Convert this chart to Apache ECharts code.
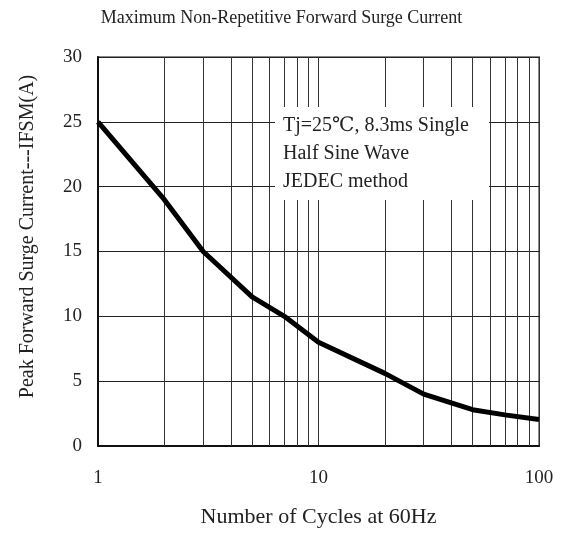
<!DOCTYPE html>
<html>
<head>
<meta charset="utf-8">
<script src="https://cdn.jsdelivr.net/npm/echarts@6/dist/echarts.min.js"></script>
<style>
  html, body { margin: 0; padding: 0; background: #fff; }
  #chart { width: 563px; height: 536px; }
</style>
</head>
<body>
<div id="chart"></div>
<script>
// 数据
const cycles = [1, 2, 3, 5, 7, 10, 20, 30, 50, 70, 100];
const current = [25, 19, 15, 11.5, 10, 8, 5.6, 4, 2.8, 2.4, 2.05];
const xTickLabels = [1, 10, 100];
const xMinorGrid = [2, 3, 4, 5, 6, 7, 8, 9, 20, 30, 40, 50, 60, 70, 80, 90];
const noteLines = ['Tj=25\u2103, 8.3ms Single', 'Half Sine Wave', 'JEDEC method'];

const serif = "'Liberation Serif', 'DejaVu Serif', serif";

const chart = echarts.init(document.getElementById('chart'));

const option = {
  animation: false,
  title: {
    text: 'Maximum Non-Repetitive Forward Surge Current',
    left: 'center',
    top: 4,
    textStyle: { fontFamily: serif, fontSize: 18, fontWeight: 'normal', color: '#222' }
  },
  grid: {
    left: 98, right: 24, top: 57, bottom: 90,
    show: true, borderColor: '#888', borderWidth: 2
  },
  xAxis: {
    type: 'log',
    logBase: 10,
    min: 1,
    max: 100,
    name: 'Number of Cycles at 60Hz',
    nameLocation: 'middle',
    nameGap: 60,
    nameTextStyle: { fontFamily: serif, fontSize: 22, color: '#222' },
    axisLine: { lineStyle: { color: '#111', width: 2 } },
    axisTick: { show: false },
    axisLabel: {
      margin: 23,
      fontFamily: serif, fontSize: 19, color: '#222',
      formatter: function (v) {
        return xTickLabels.indexOf(Math.round(v)) >= 0 ? String(Math.round(v)) : '';
      }
    },
    splitLine: { show: true, lineStyle: { color: '#333', width: 1 } }
  },
  yAxis: {
    type: 'value',
    min: 0,
    max: 30,
    interval: 5,
    name: 'Peak Forward Surge Current---IFSM(A)',
    nameLocation: 'middle',
    nameGap: 60,
    nameTextStyle: { fontFamily: serif, fontSize: 20, color: '#222', padding: [0, 0, 0, 30] },
    axisLine: { show: true, lineStyle: { color: '#111', width: 2 } },
    axisTick: { show: false },
    axisLabel: { margin: 16, fontFamily: serif, fontSize: 19, color: '#222' },
    splitLine: { show: true, lineStyle: { color: '#222', width: 1 } }
  },
  series: [
    {
      type: 'line',
      data: cycles.map((c, i) => [c, current[i]]),
      symbol: 'none',
      lineStyle: { color: '#000', width: 5 },
      z: 10,
      markLine: {
        silent: true,
        symbol: 'none',
        label: { show: false },
        lineStyle: { type: 'solid', color: '#333', width: 1 },
        data: xMinorGrid.map(v => ({ xAxis: v }))
      }
    }
  ],
  graphic: [
    {
      type: 'rect',
      z: 100,
      shape: { x: 275, y: 107, width: 214, height: 93 },
      style: { fill: '#fff' }
    },
    {
      type: 'text',
      z: 101,
      left: 283,
      top: 112,
      style: {
        text: noteLines.join('\n'),
        font: "20px 'Liberation Serif', 'DejaVu Serif', serif",
        lineHeight: 28,
        fill: '#222'
      }
    }
  ]
};

chart.setOption(option);
</script>
</body>
</html>
